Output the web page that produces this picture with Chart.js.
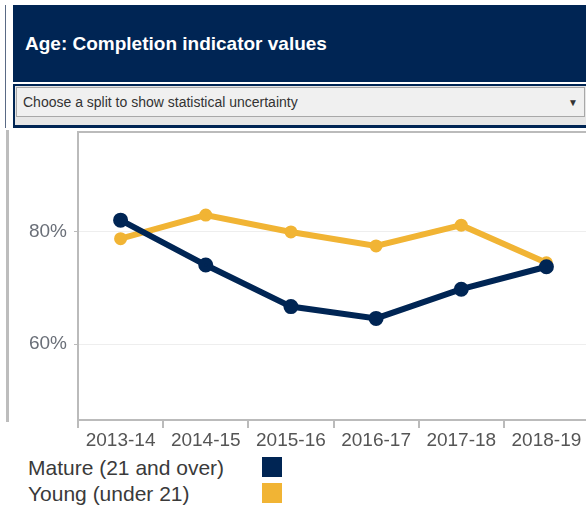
<!DOCTYPE html>
<html lang="en">
<head>
    <meta charset="UTF-8">
    <title>Age: Completion indicator values</title>
    <script src="https://cdn.jsdelivr.net/npm/chart.js"></script>
    <style>
        html, body { margin: 0; padding: 0; background: #fff; overflow: hidden; width: 586px; height: 508px; font-family: "Liberation Sans", Arial, sans-serif; }
        #leftLine { position: absolute; left: 5px; top: 5px; width: 1px; height: 123px; background: #5a6a85; }
        #leftBar { position: absolute; left: 6px; top: 130px; width: 3px; height: 292px; background: #bdbdbd; }
        #header { position: absolute; left: 13px; top: 5px; width: 580px; height: 77px; background: #002554; color: #fff; font-weight: bold; font-size: 19px; line-height: 78px; padding-left: 12px; box-sizing: border-box; }
        #splitBox { position: absolute; left: 13px; top: 84px; width: 580px; height: 44px; background: #e6e6e6; border-top: 2px solid #002554; border-bottom: 3px solid #002554; border-left: 2px solid #002554; box-sizing: border-box; }
        #split { position: absolute; left: 1px; top: 1px; width: 569px; height: 30px; background: #f0f0f0; border: 1px solid #a8a8a8; box-sizing: border-box; font-size: 14px; color: #333; line-height: 29px; padding-left: 6px; }
        #split span { position: absolute; left: 551px; top: 0; font-size: 10px; color: #333; }
        #chartWrap { position: absolute; left: 0; top: 128px; width: 592px; height: 324px; }
        #legend { position: absolute; left: 28px; top: 455px; font-size: 21px; color: #3a3a3a; }
        .row { position: relative; height: 26px; line-height: 25px; width: 260px; }
        .swatch { position: absolute; left: 234px; top: 2px; width: 20px; height: 20px; }
    </style>
</head>
<body>
    <div id="leftLine"></div>
    <div id="header">Age: Completion indicator values</div>
    <div id="splitBox"><div id="split">Choose a split to show statistical uncertainty<span>&#9660;</span></div></div>
    <div id="leftBar"></div>
    <div id="chartWrap"><canvas id="ageChart" width="592" height="324"></canvas></div>
    <div id="legend"></div>

    <script>
        const years = ["2013-14", "2014-15", "2015-16", "2016-17", "2017-18", "2018-19"];
        const seriesNames = ["Mature (21 and over)", "Young (under 21)"];
        const mature = [82.1, 74.1, 66.7, 64.6, 69.8, 73.8];
        const young = [78.8, 83.0, 80.0, 77.5, 81.2, 74.5];
        const yTicks = [60, 80];
        const colours = ["#002554", "#f1b434"];

        // legend built from the series names
        const legend = document.getElementById("legend");
        seriesNames.forEach((name, i) => {
            legend.innerHTML += `<div class="row">${name}<div class="swatch" style="background:${colours[i]}"></div></div>`;
        });

        // grey frame round the plot area
        const frame = {
            id: "frame",
            afterDraw(chart) {
                const a = chart.chartArea;
                const ctx = chart.ctx;
                ctx.save();
                ctx.strokeStyle = "#bbbbbb";
                ctx.lineWidth = 2;
                ctx.strokeRect(a.left, a.top, a.right - a.left, a.bottom - a.top);
                ctx.restore();
            }
        };

        const tickFont = { family: "Liberation Sans", size: 19 };

        new Chart(document.getElementById("ageChart"), {
            type: "line",
            data: {
                labels: years,
                datasets: [
                    { label: seriesNames[0], data: mature, borderColor: colours[0], backgroundColor: colours[0], borderWidth: 6, pointRadius: 4.5, pointHoverRadius: 4.5, tension: 0 },
                    { label: seriesNames[1], data: young, borderColor: colours[1], backgroundColor: colours[1], borderWidth: 6, pointRadius: 3.5, pointHoverRadius: 3.5, tension: 0 }
                ]
            },
            options: {
                responsive: false,
                animation: false,
                layout: { autoPadding: false, padding: { top: 4, right: 3, left: 0, bottom: 0 } },
                plugins: { legend: { display: false }, tooltip: { enabled: false } },
                scales: {
                    x: {
                        offset: true,
                        border: { display: false },
                        grid: { drawOnChartArea: false, tickLength: 8, tickColor: "#bbbbbb", lineWidth: 2, offset: true },
                        ticks: { font: tickFont, color: "#555", padding: 1, maxRotation: 0, autoSkip: false },
                        afterFit(scale) {
                            scale.height = 32;
                            scale.paddingLeft = 0;
                            scale.paddingRight = 0;
                        }
                    },
                    y: {
                        min: 46.5,
                        max: 97.8,
                        border: { display: false },
                        grid: { color: "#eeeeee", tickColor: "#bbbbbb", tickLength: 4 },
                        ticks: { font: tickFont, color: "#6a6f78", padding: 7, callback: v => v + "%" },
                        afterBuildTicks(scale) { scale.ticks = yTicks.map(v => ({ value: v })); },
                        afterFit(scale) {
                            scale.width = 78;
                            scale.paddingTop = 0;
                            scale.paddingBottom = 0;
                        }
                    }
                }
            },
            plugins: [frame]
        });
    </script>
</body>
</html>
